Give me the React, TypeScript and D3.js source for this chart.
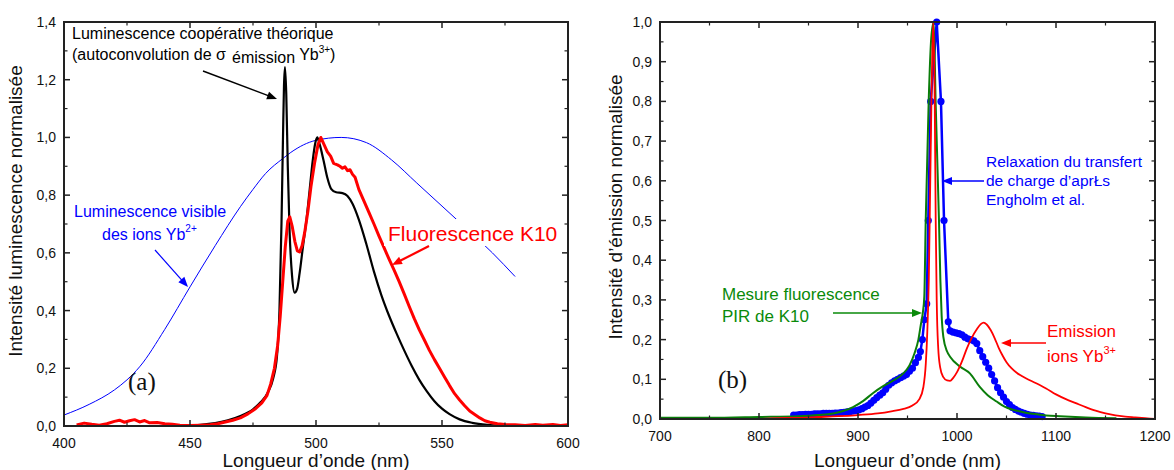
import React from 'react';
import * as d3 from 'd3';

const W = 1174;
const H = 470;

// ---------- Panel (a) data ----------
const aXTicks = [400, 450, 500, 550, 600];
const aXMinor = [425, 475, 525, 575];
const aYTicks = [0, 0.2, 0.4, 0.6, 0.8, 1.0, 1.2, 1.4];
const aYMinor = [0.1, 0.3, 0.5, 0.7, 0.9, 1.1, 1.3];

// Yb2+ visible luminescence (blue, thin)
const lumVisible: [number, number][] = [
  [400, 0.038], [410, 0.075], [420, 0.125], [425, 0.16], [430, 0.205], [440, 0.335], [450, 0.482],
  [460, 0.625], [470, 0.76], [475, 0.82], [480, 0.875], [487, 0.928], [490, 0.948], [500, 0.99],
  [510, 1.0], [520, 0.982], [530, 0.922], [540, 0.842], [550, 0.762], [560, 0.682], [570, 0.6], [579, 0.518],
];

// Theoretical cooperative luminescence (black)
const coopLum: [number, number][] = [
  [445, 0], [455, 0.005], [460, 0.01], [465, 0.02], [470, 0.035], [475, 0.058], [478, 0.082], [481, 0.118],
  [483, 0.165], [484.5, 0.24], [485.5, 0.4], [486.3, 0.7], [486.9, 1.0], [487.3, 1.18], [487.7, 1.244],
  [488.2, 1.15], [488.8, 0.9], [489.5, 0.68], [490.5, 0.52], [491.5, 0.462], [492.5, 0.475], [493.5, 0.53],
  [494.8, 0.62], [496.3, 0.72], [497.5, 0.82], [498.7, 0.92], [499.7, 0.98], [500.5, 1.0], [501.5, 0.975],
  [503, 0.92], [504.5, 0.86], [506, 0.822], [508, 0.81], [510.5, 0.807], [512.5, 0.797], [514.5, 0.77],
  [517, 0.715], [520, 0.63], [523, 0.535], [526, 0.452], [529, 0.382], [532, 0.32], [535, 0.262],
  [538, 0.208], [541, 0.16], [544, 0.12], [547, 0.086], [550, 0.06], [553, 0.041], [557, 0.023],
  [562, 0.011], [568, 0.004], [574, 0.001], [580, 0],
];

// Measured fluorescence K10 (red, thick, noisy)
const fluoK10: [number, number][] = [
  [405, 0.004], [408, 0.01], [411, 0.006], [414, 0.003], [417, 0.008], [420, 0.016], [422, 0.02],
  [424, 0.013], [426, 0.018], [428, 0.022], [430, 0.014], [432, 0.019], [434, 0.011], [437, 0.012],
  [440, 0.008], [443, 0.006], [446, 0.003], [450, 0.002], [454, 0.003], [458, 0.004], [461, 0.008],
  [464, 0.014], [467, 0.02], [470, 0.028], [473, 0.042], [476, 0.06], [478.5, 0.08], [480.5, 0.105],
  [482, 0.145], [483.5, 0.2], [484.8, 0.28], [485.8, 0.38], [486.8, 0.5], [487.8, 0.62], [488.8, 0.71],
  [489.6, 0.725], [490.6, 0.69], [491.6, 0.64], [492.6, 0.607], [493.5, 0.603], [494.5, 0.625],
  [495.5, 0.67], [496.8, 0.745], [498, 0.83], [499.4, 0.91], [500.8, 0.975], [501.9, 1.0], [503.2, 0.975],
  [504.5, 0.95], [505.8, 0.935], [507, 0.91], [508.5, 0.905], [509.5, 0.9], [510.5, 0.893], [511.5, 0.898],
  [512.5, 0.885], [513.5, 0.888], [514.5, 0.872], [515.5, 0.862], [517, 0.82], [519, 0.78], [521, 0.74],
  [523, 0.7], [525, 0.658], [527, 0.618], [529, 0.578], [531, 0.54], [533, 0.5], [535, 0.458],
  [537, 0.414], [539, 0.372], [541, 0.333], [543, 0.298], [545, 0.262], [547, 0.23], [549, 0.2],
  [551, 0.17], [553, 0.14], [555, 0.112], [557, 0.09], [559, 0.07], [561, 0.052], [563, 0.04],
  [565, 0.028], [567, 0.018], [569, 0.013], [572, 0.008], [575, 0.005], [579, 0.004], [583, 0.002],
  [587, 0.005], [590, 0.003], [594, 0.005], [597, 0.002], [600, 0.004],
];

// ---------- Panel (b) data ----------
const bXTicks = [700, 800, 900, 1000, 1100, 1200];
const bXMinor = [750, 850, 950, 1050, 1150];
const bYTicks = [0, 0.1, 0.2, 0.3, 0.4, 0.5, 0.6, 0.7, 0.8, 0.9, 1.0];
const bYMinor = [0.05, 0.15, 0.25, 0.35, 0.45, 0.55, 0.65, 0.75, 0.85, 0.95];

// Engholm et al. charge-transfer relaxation (blue dots)
const engholm: [number, number][] = [
  [835, 0.01], [838, 0.01], [841, 0.011], [844, 0.011], [847, 0.012], [850, 0.012], [853, 0.012],
  [856, 0.013], [859, 0.013], [862, 0.013], [865, 0.014], [868, 0.014], [871, 0.014], [874, 0.014],
  [877, 0.015], [880, 0.015], [883, 0.016], [886, 0.017], [889, 0.018], [892, 0.019], [895, 0.02],
  [898, 0.021], [901, 0.023], [904, 0.026], [907, 0.03], [910, 0.034], [913, 0.04], [916, 0.047],
  [919, 0.054], [922, 0.06], [925, 0.066], [928, 0.075], [931, 0.085], [934, 0.091], [937, 0.096],
  [940, 0.1], [943, 0.104], [946, 0.108], [949, 0.112], [952, 0.12], [955, 0.128], [958, 0.142],
  [961, 0.155], [963, 0.17], [965, 0.2], [967, 0.25], [969.4, 0.29], [971, 0.5], [973.4, 0.8],
  [979.5, 1.0], [983.8, 0.8], [986.9, 0.5], [991.2, 0.245], [993, 0.222], [996, 0.219], [999, 0.217],
  [1002, 0.215], [1005, 0.212], [1008, 0.206], [1011, 0.202], [1014, 0.2], [1017, 0.197], [1020, 0.19],
  [1023, 0.172], [1026, 0.157], [1029, 0.143], [1032, 0.128], [1035, 0.112], [1038, 0.096],
  [1041, 0.079], [1044, 0.066], [1047, 0.055], [1050, 0.044], [1053, 0.036], [1056, 0.029],
  [1059, 0.024], [1062, 0.02], [1065, 0.017], [1068, 0.014], [1071, 0.012], [1074, 0.01],
  [1077, 0.009], [1080, 0.008], [1083, 0.007], [1086, 0.006],
];

// PIR fluorescence of K10 (green)
const pirK10: [number, number][] = [
  [700, 0.003], [750, 0.003], [800, 0.005], [840, 0.007], [860, 0.01], [875, 0.014], [885, 0.02],
  [895, 0.03], [905, 0.045], [915, 0.065], [925, 0.082], [935, 0.096], [945, 0.113], [952, 0.135],
  [957, 0.165], [961, 0.2], [963.5, 0.238], [965.5, 0.268], [967, 0.31], [968.4, 0.5], [971.4, 0.8],
  [974, 0.96], [976.5, 1.0], [978.4, 0.8], [981.8, 0.5], [983.2, 0.35], [984.5, 0.26], [986.2, 0.207],
  [990, 0.17], [993, 0.157], [1003, 0.132], [1013, 0.115], [1023, 0.081], [1031, 0.06], [1040, 0.044],
  [1048, 0.031], [1057, 0.023], [1067, 0.017], [1077, 0.013], [1090, 0.009], [1104, 0.007],
  [1130, 0.004], [1161, 0.002],
];

// Yb3+ ion emission (red)
const ybEmission: [number, number][] = [
  [800, 0], [820, 0.002], [840, 0.003], [860, 0.005], [880, 0.007], [900, 0.01], [920, 0.014],
  [935, 0.02], [945, 0.025], [955, 0.034], [962, 0.05], [966, 0.08], [968.5, 0.14], [970, 0.22],
  [971.5, 0.35], [973, 0.6], [974.5, 0.85], [976, 1.0], [977.5, 0.8], [978.5, 0.5], [979.5, 0.3],
  [981, 0.18], [983, 0.13], [986, 0.106], [990, 0.097], [993, 0.096], [996, 0.103], [1000, 0.118],
  [1005, 0.145], [1010, 0.178], [1015, 0.205], [1020, 0.226], [1024, 0.239], [1027, 0.243],
  [1030, 0.238], [1034, 0.224], [1038, 0.204], [1042, 0.18], [1046, 0.16], [1050, 0.143],
  [1055, 0.128], [1060, 0.117], [1065, 0.109], [1070, 0.102], [1080, 0.09], [1090, 0.077],
  [1100, 0.062], [1110, 0.05], [1120, 0.04], [1130, 0.03], [1140, 0.021], [1150, 0.014],
  [1160, 0.009], [1170, 0.006], [1180, 0.004], [1190, 0.002], [1200, 0],
];

const FONT = "'Liberation Sans', Arial, sans-serif";
const SERIF = "'Liberation Serif', 'DejaVu Serif', serif";
const AXC = '#222';

const fmtComma = (v: number) => d3.format('.1f')(v).replace('.', ',');

function Arrow({ x1, y1, x2, y2, color, w = 1.5 }: any) {
  const a = Math.atan2(y2 - y1, x2 - x1);
  const L = 10, hw = 4;
  const bx = x2 - L * Math.cos(a), by = y2 - L * Math.sin(a);
  const p1 = [bx + hw * Math.sin(a), by - hw * Math.cos(a)];
  const p2 = [bx - hw * Math.sin(a), by + hw * Math.cos(a)];
  return (
    <g>
      <line x1={x1} y1={y1} x2={bx + 2 * Math.cos(a)} y2={by + 2 * Math.sin(a)} stroke={color} strokeWidth={w} />
      <polygon points={`${x2},${y2} ${p1[0]},${p1[1]} ${p2[0]},${p2[1]}`} fill={color} />
    </g>
  );
}

function Frame({ x, y, xt, xm, yt, ym, xfmt, yfmt }: any) {
  const [l, r] = x.range();
  const [b, t] = y.range();
  const M = 6, m = 3.5;
  return (
    <g>
      {xt.map((v: number) => (
        <g key={'xt' + v}>
          <line x1={x(v)} x2={x(v)} y1={b} y2={b - M} stroke={AXC} strokeWidth={1.5} />
          <line x1={x(v)} x2={x(v)} y1={t} y2={t + M} stroke={AXC} strokeWidth={1.5} />
          <text x={x(v)} y={b + 22} textAnchor="middle" fontSize={14} fontFamily={FONT} fill="#111">{xfmt(v)}</text>
        </g>
      ))}
      {xm.map((v: number) => (
        <g key={'xm' + v}>
          <line x1={x(v)} x2={x(v)} y1={b} y2={b - m} stroke={AXC} strokeWidth={1.2} />
          <line x1={x(v)} x2={x(v)} y1={t} y2={t + m} stroke={AXC} strokeWidth={1.2} />
        </g>
      ))}
      {yt.map((v: number) => (
        <g key={'yt' + v}>
          <line x1={l} x2={l + M} y1={y(v)} y2={y(v)} stroke={AXC} strokeWidth={1.5} />
          <line x1={r} x2={r - M} y1={y(v)} y2={y(v)} stroke={AXC} strokeWidth={1.5} />
          <text x={l - 8} y={y(v) + 5} textAnchor="end" fontSize={14} fontFamily={FONT} fill="#111">{yfmt(v)}</text>
        </g>
      ))}
      {ym.map((v: number) => (
        <g key={'ym' + v}>
          <line x1={l} x2={l + m} y1={y(v)} y2={y(v)} stroke={AXC} strokeWidth={1.2} />
          <line x1={r} x2={r - m} y1={y(v)} y2={y(v)} stroke={AXC} strokeWidth={1.2} />
        </g>
      ))}
      <rect x={l} y={t} width={r - l} height={b - t} fill="none" stroke={AXC} strokeWidth={2} />
    </g>
  );
}

export default function App() {
  // panel (a)
  const xa = d3.scaleLinear().domain([400, 600]).range([64, 568]);
  const ya = d3.scaleLinear().domain([0, 1.4]).range([426, 22]);
  const la = d3.line<[number, number]>().x(d => xa(d[0])).y(d => ya(d[1])).curve(d3.curveMonotoneX);
  const laLin = d3.line<[number, number]>().x(d => xa(d[0])).y(d => ya(d[1]));

  // panel (b)
  const xb = d3.scaleLinear().domain([700, 1200]).range([660, 1155]);
  const yb = d3.scaleLinear().domain([0, 1.0]).range([419, 22]);
  const lb = d3.line<[number, number]>().x(d => xb(d[0])).y(d => yb(d[1])).curve(d3.curveMonotoneX);
  const lbLin = d3.line<[number, number]>().x(d => xb(d[0])).y(d => yb(d[1]));

  return (
    <svg width={W} height={H} style={{ position: 'absolute', left: 0, top: 0, background: '#fff' }}
      fontFamily={FONT}>
      <rect x={0} y={0} width={W} height={H} fill="#fff" />

      {/* ---------- Panel (a) ---------- */}
      <path d={la(lumVisible) || ''} fill="none" stroke="#0000ff" strokeWidth={1} />
      <path d={la(coopLum) || ''} fill="none" stroke="#000" strokeWidth={2.2} />
      <path d={laLin(fluoK10) || ''} fill="none" stroke="#ff0000" strokeWidth={3} strokeLinejoin="round" />

      <Frame x={xa} y={ya} xt={aXTicks} xm={aXMinor} yt={aYTicks} ym={aYMinor}
        xfmt={(v: number) => String(v)} yfmt={fmtComma} />

      <text x={72} y={39} fontSize={16} fill="#000">Luminescence coopérative théorique</text>
      <text x={72} y={60} fontSize={16} fill="#000">
        (autoconvolution de σ<tspan dx={6} dy={3}>émission</tspan>
        <tspan dx={4} dy={-3}>Yb</tspan><tspan fontSize={10} dy={-7}>3+</tspan><tspan dy={7}>)</tspan>
      </text>
      <Arrow x1={203} y1={71} x2={277} y2={99} color="#000" w={1.5} />

      <text x={74} y={217} fontSize={16} fill="#0000ff">Luminescence visible</text>
      <text x={102} y={240} fontSize={16} fill="#0000ff">
        des ions Yb<tspan fontSize={10} dy={-8}>2+</tspan>
      </text>
      <Arrow x1={155} y1={250} x2={188} y2={287} color="#0000ff" w={1.2} />

      <rect x={384} y={219} width={178} height={27} fill="#fff" />
      <text x={388} y={241} fontSize={21} fill="#ff0000">Fluorescence K10</text>
      <Arrow x1={429} y1={246} x2={392} y2={265} color="#ff0000" w={2.2} />

      <text x={128} y={390} fontSize={25} fontFamily={SERIF} fill="#111">(a)</text>

      <text x={(64 + 568) / 2} y={467} textAnchor="middle" fontSize={19} fill="#111">Longueur d’onde (nm)</text>
      <text transform={`translate(22,${211}) rotate(-90)`} textAnchor="middle" fontSize={19} fill="#111">
        Intensité luminescence normalisée
      </text>

      {/* ---------- Panel (b) ---------- */}
      <path d={lbLin(engholm) || ''} fill="none" stroke="#0000ff" strokeWidth={2.5} />
      {engholm.map((d, i) => (
        <circle key={i} cx={xb(d[0])} cy={yb(d[1])} r={3.6} fill="#0000ff" />
      ))}
      <path d={lb(pirK10) || ''} fill="none" stroke="#0a7d0a" strokeWidth={2} />
      <path d={lb(ybEmission) || ''} fill="none" stroke="#ff0000" strokeWidth={1.8} />

      <Frame x={xb} y={yb} xt={bXTicks} xm={bXMinor} yt={bYTicks} ym={bYMinor}
        xfmt={(v: number) => String(v)} yfmt={fmtComma} />

      <text x={986} y={167} fontSize={15.5} fill="#0000ff">Relaxation du transfert</text>
      <text x={986} y={186} fontSize={15.5} fill="#0000ff">de charge d’aprŁs</text>
      <text x={986} y={205} fontSize={15.5} fill="#0000ff">Engholm et al.</text>
      <Arrow x1={984} y1={181} x2={942} y2={181} color="#0000ff" w={1.5} />

      <text x={722} y={300} fontSize={17} fill="#0a8a0a">Mesure fluorescence</text>
      <text x={722} y={322} fontSize={17} fill="#0a8a0a">PIR de K10</text>
      <Arrow x1={833} y1={313} x2={922} y2={313} color="#0a8a0a" w={1.5} />

      <text x={1047} y={337} fontSize={17} fill="#ff0000">Emission</text>
      <text x={1047} y={362} fontSize={17} fill="#ff0000">
        ions Yb<tspan fontSize={11} dy={-8}>3+</tspan>
      </text>
      <Arrow x1={1046} y1={343} x2={1001} y2={343} color="#ff0000" w={1.5} />

      <text x={718} y={388} fontSize={25} fontFamily={SERIF} fill="#111">(b)</text>

      <text x={(660 + 1155) / 2} y={467} textAnchor="middle" fontSize={19} fill="#111">Longueur d’onde (nm)</text>
      <text transform={`translate(622,${207}) rotate(-90)`} textAnchor="middle" fontSize={19} fill="#111">
        Intensité d’émission normalisée
      </text>
    </svg>
  );
}
